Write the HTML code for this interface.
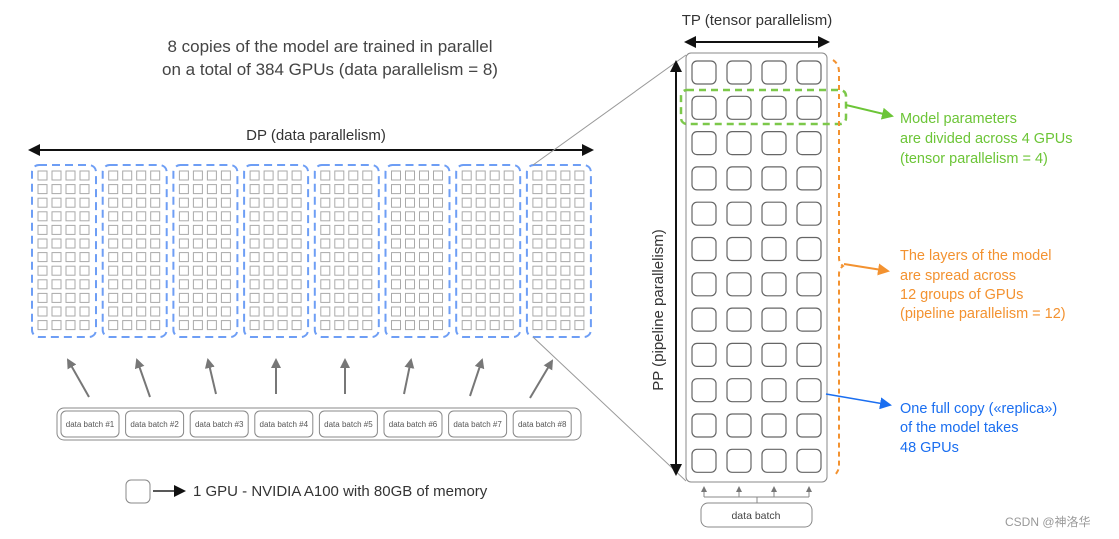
<!DOCTYPE html>
<html><head><meta charset="utf-8"><style>
html,body{margin:0;padding:0;background:#fff;}
svg{display:block;font-family:"Liberation Sans","Noto Sans CJK SC",sans-serif;}
</style></head><body>
<svg width="1119" height="539" viewBox="0 0 1119 539" xmlns="http://www.w3.org/2000/svg">
<defs>
<marker id="ab" markerWidth="12" markerHeight="12" refX="10" refY="6" orient="auto-start-reverse" markerUnits="userSpaceOnUse"><path d="M0,0 L12,6 L0,12 z" fill="#111"/></marker>
<marker id="ag" markerWidth="10" markerHeight="10" refX="8" refY="5" orient="auto" markerUnits="userSpaceOnUse"><path d="M0,0 L10,5 L0,10 z" fill="#777"/></marker>
<marker id="ag2" markerWidth="6" markerHeight="6" refX="5" refY="3" orient="auto" markerUnits="userSpaceOnUse"><path d="M0,0 L6,3 L0,6 z" fill="#777"/></marker>
<marker id="agr" markerWidth="12" markerHeight="12" refX="10" refY="6" orient="auto" markerUnits="userSpaceOnUse"><path d="M0,0 L12,6 L0,12 z" fill="#6cc537"/></marker>
<marker id="aor" markerWidth="12" markerHeight="12" refX="10" refY="6" orient="auto" markerUnits="userSpaceOnUse"><path d="M0,0 L12,6 L0,12 z" fill="#f39230"/></marker>
<marker id="abl" markerWidth="12" markerHeight="12" refX="10" refY="6" orient="auto" markerUnits="userSpaceOnUse"><path d="M0,0 L12,6 L0,12 z" fill="#1a6ef0"/></marker>
</defs>

<text x="330" y="52" font-size="17" fill="#444" text-anchor="middle">8 copies of the model are trained in parallel</text>
<text x="330" y="75" font-size="17" fill="#444" text-anchor="middle">on a total of 384 GPUs (data parallelism = 8)</text>

<text x="316" y="140" font-size="15" fill="#333" text-anchor="middle">DP (data parallelism)</text>
<line x1="30" y1="150" x2="592" y2="150" stroke="#111" stroke-width="2" marker-end="url(#ab)" marker-start="url(#ab)"/>
<g id="groups"></g>

<line x1="533" y1="165" x2="686" y2="55" stroke="#999" stroke-width="1"/>
<line x1="533" y1="337" x2="686" y2="481" stroke="#999" stroke-width="1"/>

<g stroke="#777" stroke-width="2" marker-end="url(#ag)">
<line x1="89" y1="397" x2="68" y2="360"/>
<line x1="150" y1="397" x2="137" y2="360"/>
<line x1="216" y1="394" x2="208" y2="360"/>
<line x1="276" y1="394" x2="276" y2="360"/>
<line x1="345" y1="394" x2="345" y2="360"/>
<line x1="404" y1="394" x2="411" y2="360"/>
<line x1="470" y1="396" x2="482" y2="360"/>
<line x1="530" y1="398" x2="552" y2="361"/>
</g>
<rect x="57" y="408" width="524" height="32" rx="7" fill="none" stroke="#888"/>
<g id="batches" font-size="8" fill="#555" text-anchor="middle"></g>

<rect x="126" y="480" width="24" height="23" rx="5" fill="none" stroke="#888"/>
<line x1="153" y1="491" x2="184" y2="491" stroke="#222" stroke-width="1.5" marker-end="url(#ab)"/>
<text x="193" y="496" font-size="15" fill="#333">1 GPU - NVIDIA A100 with 80GB of memory</text>

<text x="757" y="25" font-size="15" fill="#333" text-anchor="middle">TP (tensor parallelism)</text>
<line x1="686" y1="42" x2="828" y2="42" stroke="#111" stroke-width="2" marker-end="url(#ab)" marker-start="url(#ab)"/>
<line x1="676" y1="62" x2="676" y2="474" stroke="#111" stroke-width="2" marker-end="url(#ab)" marker-start="url(#ab)"/>
<text transform="translate(663,310) rotate(-90)" font-size="15" fill="#333" text-anchor="middle">PP (pipeline parallelism)</text>
<rect x="686" y="53" width="141" height="429" rx="5" fill="none" stroke="#888"/>
<g id="big"></g>
<rect x="681" y="90" width="165" height="34" rx="6" fill="none" stroke="#7cc84a" stroke-width="2.5" stroke-dasharray="7,5"/>
<line x1="846" y1="105" x2="892" y2="116" stroke="#6cc537" stroke-width="2" marker-end="url(#agr)"/>
<path d="M833,60 Q839,64 839,72 L839,258 Q839,263 843,266 Q839,269 839,274 L839,466 Q839,471 834,476" fill="none" stroke="#f39230" stroke-width="2" stroke-dasharray="5,4"/>
<line x1="844" y1="264" x2="888" y2="271" stroke="#f39230" stroke-width="2" marker-end="url(#aor)"/>
<line x1="826" y1="394" x2="890" y2="405" stroke="#1a6ef0" stroke-width="1.5" marker-end="url(#abl)"/>

<g font-size="14.5" fill="#6cc537">
<text x="900" y="123">Model parameters</text>
<text x="900" y="143">are divided across 4 GPUs</text>
<text x="900" y="163">(tensor parallelism = 4)</text>
</g>
<g font-size="14.5" fill="#f39230">
<text x="900" y="260">The layers of the model</text>
<text x="900" y="280">are spread across</text>
<text x="900" y="299">12 groups of GPUs</text>
<text x="900" y="318">(pipeline parallelism = 12)</text>
</g>
<g font-size="14.5" fill="#1a6ef0">
<text x="900" y="413">One full copy («replica»)</text>
<text x="900" y="432">of the model takes</text>
<text x="900" y="452">48 GPUs</text>
</g>

<g stroke="#888" stroke-width="1" fill="none">
<path d="M757,503 L757,497 M704,497 L809,497"/>
</g>
<g stroke="#888" stroke-width="1" marker-end="url(#ag2)">
<line x1="704" y1="497" x2="704" y2="487"/>
<line x1="739" y1="497" x2="739" y2="487"/>
<line x1="774" y1="497" x2="774" y2="487"/>
<line x1="809" y1="497" x2="809" y2="487"/>
</g>
<rect x="701" y="503" width="111" height="24" rx="7" fill="none" stroke="#888"/>
<text x="756" y="519" font-size="10.5" fill="#444" text-anchor="middle">data batch</text>

<text x="1005" y="526" font-size="12" fill="#999">CSDN @神洛华</text>

<script>
var NS="http://www.w3.org/2000/svg";
function el(p,t,a,txt){var e=document.createElementNS(NS,t);for(var k in a)e.setAttribute(k,a[k]);if(txt)e.textContent=txt;p.appendChild(e);return e;}
var g=document.getElementById("groups");
for(var i=0;i<8;i++){
 var x=32+i*70.7;
 el(g,"rect",{x:x,y:165,width:64,height:172,rx:7,fill:"none",stroke:"#6e9ef5","stroke-width":2,"stroke-dasharray":"8,5"});
 for(var c=0;c<4;c++)for(var r=0;r<12;r++)
  el(g,"rect",{x:x+6+c*14,y:171+r*13.6,width:9,height:9,fill:"none",stroke:"#aaa","stroke-width":1});
}
var b=document.getElementById("batches");
for(var i=0;i<8;i++){
 var x=61+i*64.6;
 el(b,"rect",{x:x,y:411,width:58,height:26,rx:5,fill:"none",stroke:"#888"});
 el(b,"text",{x:x+29,y:427},"data batch #"+(i+1));
}
var big=document.getElementById("big");
for(var c=0;c<4;c++)for(var r=0;r<12;r++)
 el(big,"rect",{x:692+c*35,y:61+r*35.3,width:24,height:23,rx:5,fill:"none",stroke:"#666","stroke-width":1.2});
</script>
</svg>
</body></html>
